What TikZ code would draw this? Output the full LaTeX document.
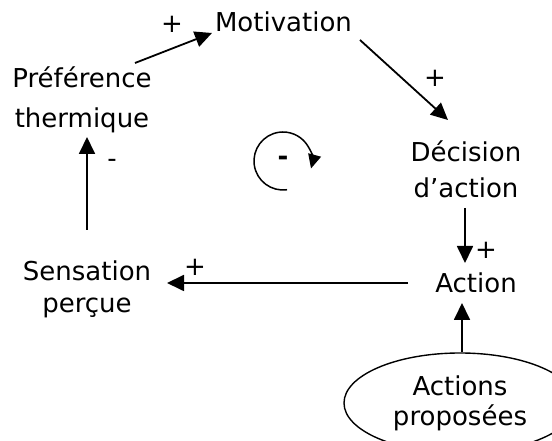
\documentclass[tikz,border=0pt]{standalone}
\usepackage{fontspec}
\setmainfont{DejaVu Sans}
\usetikzlibrary{arrows.meta,calc,shapes.geometric}

\tikzset{
  lbl/.style={inner sep=0pt, outer sep=0pt, align=center, font=\fontsize{26}{36}\selectfont},
  sign/.style={inner sep=0pt, font=\fontsize{26}{30}\selectfont},
  arr/.style={line width=1.8pt, -{Triangle[length=17pt,width=16pt]}},
  looparr/.style={line width=1.5pt, -{Triangle[length=14pt,width=13pt]}},
}

\begin{document}
\begin{tikzpicture}[x=1pt,y=1pt]
  \useasboundingbox (0,0) rectangle (552,441);
  \clip (0,0) rectangle (552,441);

  % states of the loop
  \node[lbl, anchor=base] (motiv) at (283.5,409) {Motivation};
  \node[lbl, font=\fontsize{26}{40}\selectfont] (pref) at (82,341) {Préférence\\thermique};
  \node[lbl, font=\fontsize{26}{36}\selectfont] (dec) at (466,271.5) {Décision\\d’action};
  \node[lbl, anchor=base] (action) at (476,148) {Action};
  \node[lbl, font=\fontsize{26}{32}\selectfont] (sens) at (87,152) {Sensation\\perçue};
  \node[ellipse, draw, line width=1.4pt, minimum width=232pt, minimum height=100pt,
        inner sep=0pt, align=center, font=\fontsize{26}{30}\selectfont]
        (prop) at (460,38) {Actions\\proposées};

  % loop sign
  \node[inner sep=0pt, font=\fontsize{26}{30}\selectfont\bfseries] (loop) at (283,280) {-};
  \draw[looparr] ($(loop.center)+(278:29)$) arc[start angle=278, end angle=-15, radius=29];

  % influence arrows
  \draw[arr] ($(pref.center)+(53,37)$) -- ($(motiv.base)+(-71.5,-1)$);
  \draw[arr] ($(motiv.base)+(76.5,-8)$) -- ($(dec.center)+(-18,49.5)$);
  \draw[arr] ($(dec.center)+(-1,-38.5)$) -- ($(action.base)+(-11,30)$);
  \draw[arr] ($(action.base)+(-68,10)$) -- ($(sens.center)+(80,6)$);
  \draw[arr] ($(sens.center)+(0,59)$) -- ($(pref.center)+(5,-37)$);
  \draw[arr] ($(prop.north)+(2,0)$) -- ($(action.base)+(-14,-10)$);

  % signs
  \node[sign] (s1) at (172,417) {+};
  \node[sign] (s2) at (435,363) {+};
  \node[sign] (s3) at (486,191) {+};
  \node[sign] (s4) at (195,174) {+};
  \node[sign] (s5) at (112,278) {-};
\end{tikzpicture}
\end{document}
